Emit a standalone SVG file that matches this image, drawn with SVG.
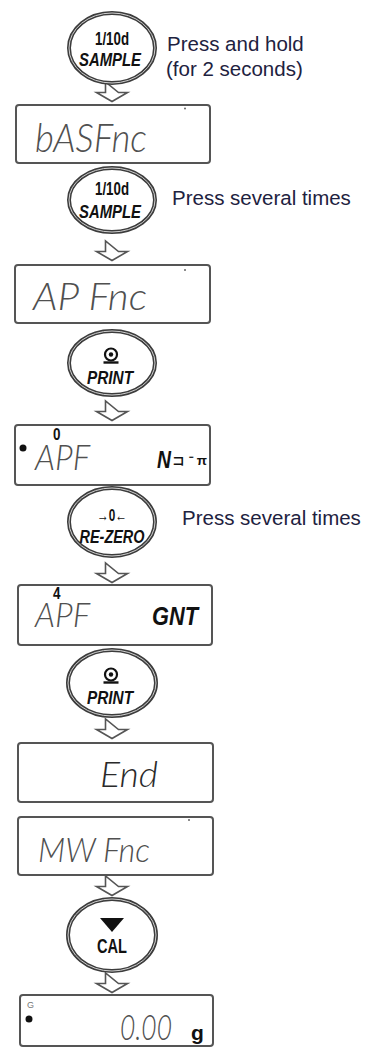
<svg xmlns="http://www.w3.org/2000/svg" width="369" height="1048" viewBox="0 0 369 1048">
<style>
.bg{fill:#fff}
.btn-o{fill:#fff;stroke:#3c3c3c;stroke-width:4}
.btn-i{fill:none;stroke:#d0d0d0;stroke-width:1}
.key{font-family:"Liberation Sans",Arial,sans-serif;font-weight:bold;fill:#111;text-anchor:middle}
.it{font-style:italic}
.box{fill:#fff;stroke:#555;stroke-width:2}
.seg{font-family:Lato,"DejaVu Sans",sans-serif;font-weight:300;font-style:italic;fill:#505050}
.bold{font-family:"Liberation Sans",Arial,sans-serif;font-weight:bold;fill:#111}
.lbl{font-family:"Liberation Sans",Arial,sans-serif;font-size:20.5px;fill:#1e2240}
.arr{fill:#fff;stroke:#555;stroke-width:1.6;stroke-linejoin:miter}
.pt{fill:#666}
</style>
<defs>
<path id="down" d="M-6.5,0 V10.5 H-15.5 L0,19.5 L15.5,10.5 H6.5 Z"/>
<g id="printicon">
<circle cx="0" cy="-5.5" r="6" fill="none" stroke="#111" stroke-width="2.2"/>
<circle cx="0" cy="-5.5" r="2.2" fill="#111"/>
<path d="M-7.5,2.5 H7.5" stroke="#111" stroke-width="2.4"/>
</g>
</defs>
<rect class="bg" x="0" y="0" width="369" height="1048"/>

<g id="connectors">
<use href="#down" class="arr" x="112" y="82"/>
<use href="#down" class="arr" x="112" y="241"/>
<use href="#down" class="arr" x="112" y="401"/>
<use href="#down" class="arr" x="112" y="563"/>
<use href="#down" class="arr" x="112" y="719"/>
<use href="#down" class="arr" x="112" y="876"/>
<use href="#down" class="arr" x="112" y="973"/>
</g>

<g id="btn-sample-1">
<ellipse class="btn-o" cx="112" cy="48" rx="43" ry="35"/>
<ellipse class="btn-i" cx="112" cy="48" rx="43" ry="35"/>
<text class="key" x="112" y="45" font-size="18" textLength="34" lengthAdjust="spacingAndGlyphs">1/10d</text>
<text class="key it" x="110" y="66" font-size="19" textLength="62" lengthAdjust="spacingAndGlyphs">SAMPLE</text>
</g>
<g id="label-hold">
<text class="lbl" x="167" y="51">Press and hold</text>
<text class="lbl" x="166" y="76">(for 2 seconds)</text>
</g>

<g id="disp-basfnc">
<rect class="box" x="16" y="105" width="194" height="58" rx="3"/>
<circle class="pt" cx="185" cy="108.5" r="1"/>
<text class="seg" x="35" y="152" font-size="40" textLength="112" lengthAdjust="spacingAndGlyphs">bASFnc</text>
</g>

<g id="btn-sample-2">
<ellipse class="btn-o" cx="112" cy="200" rx="43" ry="32"/>
<ellipse class="btn-i" cx="112" cy="200" rx="43" ry="32"/>
<text class="key" x="112" y="195" font-size="18" textLength="34" lengthAdjust="spacingAndGlyphs">1/10d</text>
<text class="key it" x="110" y="218" font-size="19" textLength="62" lengthAdjust="spacingAndGlyphs">SAMPLE</text>
</g>
<g id="label-several-1">
<text class="lbl" x="172" y="205">Press several times</text>
</g>

<g id="disp-apfnc">
<rect class="box" x="15" y="265" width="195" height="58" rx="3"/>
<circle class="pt" cx="185" cy="270" r="1"/>
<text class="seg" x="33" y="310" font-size="38" textLength="114" lengthAdjust="spacingAndGlyphs">AP Fnc</text>
</g>

<g id="btn-print-1">
<ellipse class="btn-o" cx="112" cy="363" rx="43" ry="32"/>
<ellipse class="btn-i" cx="112" cy="363" rx="43" ry="32"/>
<use href="#printicon" x="111" y="360"/>
<text class="key it" x="110" y="384" font-size="18" textLength="46" lengthAdjust="spacingAndGlyphs">PRINT</text>
</g>

<g id="disp-apf-0">
<rect class="box" x="15" y="425" width="195" height="60" rx="3"/>
<circle cx="23" cy="448" r="3.5" fill="#111"/>
<text class="bold" x="53" y="440" font-size="17" textLength="7.5" lengthAdjust="spacingAndGlyphs">0</text>
<text class="seg" x="35" y="470" font-size="35" textLength="55" lengthAdjust="spacingAndGlyphs">APF</text>
<text class="bold it" x="157" y="468" font-size="23" textLength="14" lengthAdjust="spacingAndGlyphs">N</text>
<text class="bold" x="172" y="465" font-size="13" textLength="35" lengthAdjust="spacingAndGlyphs">コ ⁻ π</text>
</g>

<g id="btn-rezero">
<ellipse class="btn-o" cx="112" cy="522" rx="43" ry="34"/>
<ellipse class="btn-i" cx="112" cy="522" rx="43" ry="34"/>
<text class="key" x="112" y="521" font-size="16" textLength="30" lengthAdjust="spacingAndGlyphs">→0←</text>
<text class="key it" x="112" y="543" font-size="19" textLength="65" lengthAdjust="spacingAndGlyphs">RE-ZERO</text>
</g>
<g id="label-several-2">
<text class="lbl" x="182" y="525">Press several times</text>
</g>

<g id="disp-apf-4">
<rect class="box" x="18" y="585" width="194" height="60" rx="3"/>
<text class="bold" x="53" y="599" font-size="16" textLength="7.5" lengthAdjust="spacingAndGlyphs">4</text>
<text class="seg" x="35" y="627" font-size="34" textLength="55" lengthAdjust="spacingAndGlyphs">APF</text>
<text class="bold it" x="152" y="625" font-size="25" textLength="46" lengthAdjust="spacingAndGlyphs">GNT</text>
</g>

<g id="btn-print-2">
<ellipse class="btn-o" cx="112" cy="683" rx="44" ry="33"/>
<ellipse class="btn-i" cx="112" cy="683" rx="44" ry="33"/>
<use href="#printicon" x="111" y="680"/>
<text class="key it" x="110" y="704" font-size="18" textLength="46" lengthAdjust="spacingAndGlyphs">PRINT</text>
</g>

<g id="disp-end">
<rect class="box" x="18" y="743" width="195" height="59" rx="3"/>
<text class="seg" x="100" y="787" font-size="36" textLength="58" lengthAdjust="spacingAndGlyphs" style="fill:#2a2a2a">End</text>
</g>

<g id="disp-mwfnc">
<rect class="box" x="18" y="817" width="195" height="58" rx="3"/>
<circle class="pt" cx="189" cy="820" r="1"/>
<text class="seg" x="38" y="862" font-size="34" textLength="112" lengthAdjust="spacingAndGlyphs">MW Fnc</text>
</g>

<g id="btn-cal">
<ellipse class="btn-o" cx="112" cy="935" rx="44" ry="36"/>
<ellipse class="btn-i" cx="112" cy="935" rx="44" ry="36"/>
<path d="M100,918 H124 L112,932 Z" fill="#111"/>
<text class="key" x="112" y="953" font-size="20" textLength="30" lengthAdjust="spacingAndGlyphs">CAL</text>
</g>

<g id="disp-zero">
<rect class="box" x="20" y="995" width="193" height="51" rx="3"/>
<text x="27" y="1008" font-family="Liberation Sans, Arial, sans-serif" font-size="9" fill="#777">G</text>
<circle cx="29" cy="1019" r="3.5" fill="#111"/>
<text class="seg" x="120" y="1040" font-size="36" textLength="52" lengthAdjust="spacingAndGlyphs">0.00</text>
<text class="bold" x="191" y="1040" font-size="21">g</text>
</g>
</svg>
